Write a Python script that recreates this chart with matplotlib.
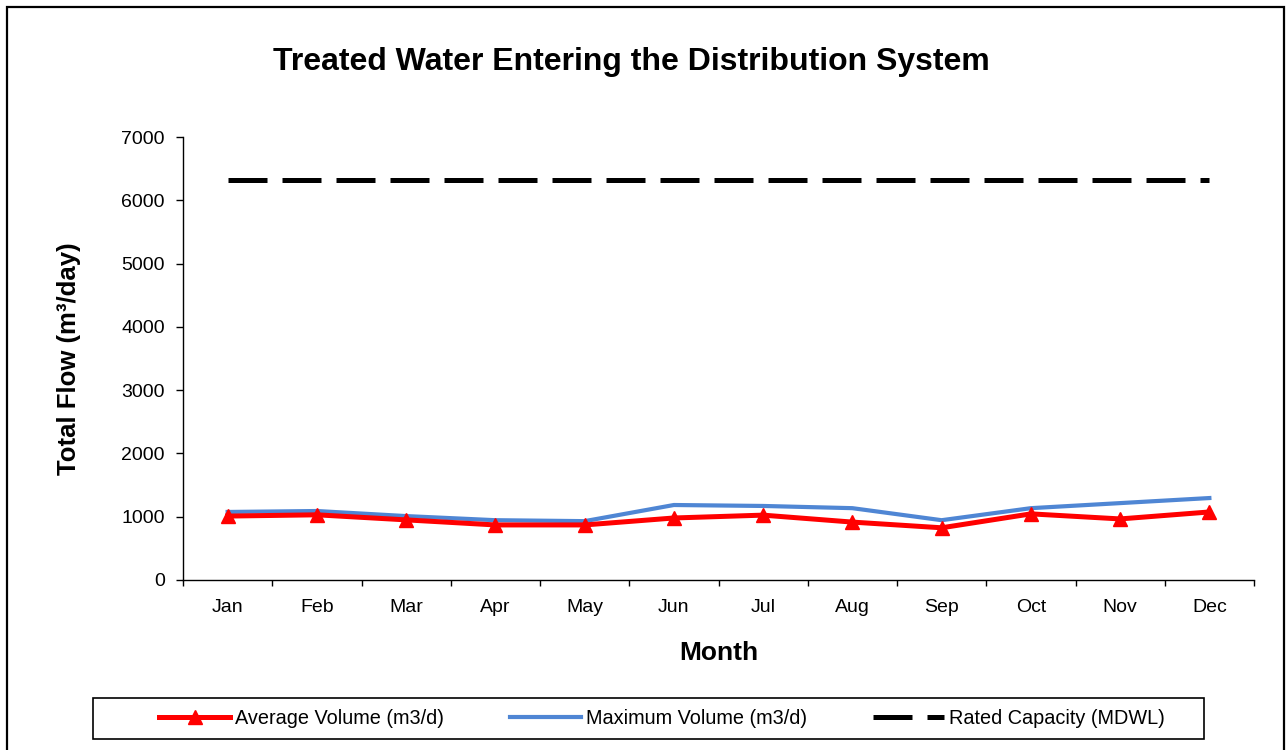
import matplotlib
matplotlib.use("Agg")
import matplotlib.pyplot as plt
from matplotlib.patches import Rectangle

plt.rcParams['font.family'] = ['Liberation Sans', 'DejaVu Sans']

months = ["Jan", "Feb", "Mar", "Apr", "May", "Jun",
          "Jul", "Aug", "Sep", "Oct", "Nov", "Dec"]
average_volume = [1010, 1030, 950, 870, 870, 980, 1025, 915, 825, 1045, 965, 1075]
maximum_volume = [1075, 1090, 1010, 945, 930, 1185, 1170, 1135, 945, 1135, 1215, 1295]
rated_capacity = [6320] * 12

fig = plt.figure(figsize=(12.86, 7.5), dpi=100)
ax = fig.add_axes([183 / 1286, 1 - 580 / 750, (1254 - 183) / 1286, (580 - 137) / 750])

x = list(range(len(months)))
ax.plot(x, average_volume, color='#FF0000', lw=3.6, marker='^', ms=9.5,
        markeredgecolor='#FF0000', label='Average Volume (m3/d)', zorder=4)
ax.plot(x, maximum_volume, color='#4F86D4', lw=3.0,
        label='Maximum Volume (m3/d)', zorder=3)
ax.plot(x, rated_capacity, color='black', lw=3.6, linestyle=(0, (7.8, 3.0)),
        label='Rated Capacity (MDWL)', zorder=3)

ax.set_xlim(-0.5, len(months) - 0.5)
ax.set_ylim(0, 7000)
ax.set_yticks(range(0, 7001, 1000))
ax.set_xticks(x)
ax.set_xticklabels(months)
ax.set_xticks([i - 0.5 for i in range(len(months) + 1)], minor=True)
ax.tick_params(axis='x', which='major', length=0, pad=14, labelsize=14)
ax.tick_params(axis='x', which='minor', length=4, width=1)
ax.tick_params(axis='y', length=5, width=1, pad=8, labelsize=14)

for side in ('top', 'right'):
    ax.spines[side].set_visible(False)
for side in ('left', 'bottom'):
    ax.spines[side].set_linewidth(1.0)

ax.set_xlabel('Month', fontsize=19, fontweight='bold', labelpad=18)
ax.set_ylabel('Total Flow (m³/day)', fontsize=18.5, fontweight='bold', labelpad=29)
fig.text(631 / 1286, 1 - 62 / 750, 'Treated Water Entering the Distribution System',
         ha='center', va='center', fontsize=23, fontweight='bold')

leg = fig.legend(loc='center', bbox_to_anchor=(662 / 1286, 1 - 718 / 750), ncol=3,
                 frameon=False, fontsize=14.3, handlelength=3.6, handletextpad=0.25,
                 columnspacing=3.3)

# legend box and outer chart frame
fig.patches.append(Rectangle((93 / 1286, 1 - 739 / 750), (1204 - 93) / 1286, 41 / 750,
                             transform=fig.transFigure, fill=False,
                             edgecolor='black', lw=1.2))
fig.patches.append(Rectangle((7 / 1286, -0.05), (1284 - 7) / 1286, 1.05 - 7 / 750,
                             transform=fig.transFigure, fill=False,
                             edgecolor='black', lw=1.6, clip_on=False))

fig.savefig('out.png', dpi=100, facecolor='white')
